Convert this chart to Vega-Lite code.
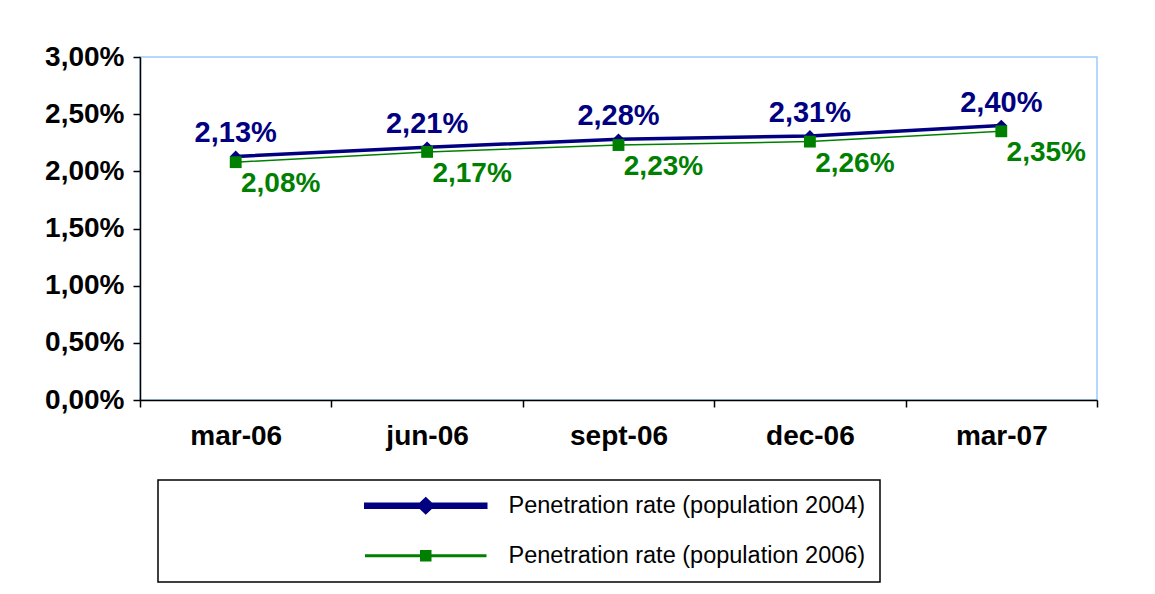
{
  "$schema": "https://vega.github.io/schema/vega-lite/v6.json",
  "width": 957,
  "height": 343,
  "autosize": {"type": "none"},
  "padding": {"left": 140, "top": 57, "right": 58, "bottom": 194},
  "background": "white",
  "data": {
    "values": [
      {"period": "mar-06", "series": "Penetration rate (population 2004)", "value": 0.0213},
      {"period": "jun-06", "series": "Penetration rate (population 2004)", "value": 0.0221},
      {"period": "sept-06", "series": "Penetration rate (population 2004)", "value": 0.0228},
      {"period": "dec-06", "series": "Penetration rate (population 2004)", "value": 0.0231},
      {"period": "mar-07", "series": "Penetration rate (population 2004)", "value": 0.0240},
      {"period": "mar-06", "series": "Penetration rate (population 2006)", "value": 0.0208},
      {"period": "jun-06", "series": "Penetration rate (population 2006)", "value": 0.0217},
      {"period": "sept-06", "series": "Penetration rate (population 2006)", "value": 0.0223},
      {"period": "dec-06", "series": "Penetration rate (population 2006)", "value": 0.0226},
      {"period": "mar-07", "series": "Penetration rate (population 2006)", "value": 0.0235}
    ]
  },
  "encoding": {
    "x": {
      "field": "period", "type": "nominal",
      "sort": ["mar-06", "jun-06", "sept-06", "dec-06", "mar-07"],
      "scale": {"type": "band", "paddingInner": 0, "paddingOuter": 0},
      "axis": {"title": null, "tickBand": "extent", "labelAngle": 0, "labelPadding": 15}
    },
    "y": {
      "field": "value", "type": "quantitative",
      "scale": {"domain": [0, 0.03], "nice": false, "zero": true},
      "axis": {"title": null, "values": [0, 0.005, 0.01, 0.015, 0.02, 0.025, 0.03], "format": ".2%", "labelPadding": 9}
    },
    "color": {
      "field": "series", "type": "nominal",
      "scale": {"domain": ["Penetration rate (population 2004)", "Penetration rate (population 2006)"], "range": ["#000080", "#008000"]},
      "legend": {"title": null, "orient": "none", "legendX": 18, "legendY": 423}
    }
  },
  "layer": [
    {
      "mark": {"type": "line"},
      "encoding": {
        "strokeWidth": {"field": "series", "type": "nominal", "scale": {"domain": ["Penetration rate (population 2004)", "Penetration rate (population 2006)"], "range": [3.5, 1.5]}, "legend": null}
      }
    },
    {
      "transform": [{"filter": "datum.series == 'Penetration rate (population 2004)'"}],
      "mark": {"type": "point", "shape": "diamond", "filled": true, "opacity": 1, "size": 140}
    },
    {
      "transform": [{"filter": "datum.series == 'Penetration rate (population 2006)'"}],
      "mark": {"type": "point", "shape": "square", "filled": true, "opacity": 1, "size": 140}
    },
    {
      "transform": [{"filter": "datum.series == 'Penetration rate (population 2004)'"}],
      "mark": {"type": "text", "dy": -23, "dx": 0, "font": "Liberation Sans", "fontWeight": "bold", "fontSize": 29},
      "encoding": {"text": {"field": "value", "type": "quantitative", "format": ".2%"}}
    },
    {
      "transform": [{"filter": "datum.series == 'Penetration rate (population 2006)'"}],
      "mark": {"type": "text", "dy": 22, "dx": 45, "font": "Liberation Sans", "fontWeight": "bold", "fontSize": 28},
      "encoding": {"text": {"field": "value", "type": "quantitative", "format": ".2%"}}
    },
    {
      "mark": {"type": "point", "filled": true, "opacity": 0},
      "encoding": {
        "shape": {
          "field": "series", "type": "nominal",
          "scale": {
            "domain": ["Penetration rate (population 2004)", "Penetration rate (population 2006)"],
            "range": ["M-12,-0.3H12V0.3H-12Z M-1.4,0L0,-1.3L1.4,0L0,1.3Z", "M-12,-0.15H12V0.15H-12Z M-1,-1H1V1H-1Z"]
          },
          "legend": {"title": null, "orient": "none", "legendX": 18, "legendY": 423}
        }
      }
    }
  ],
  "config": {
    "locale": {"number": {"decimal": ",", "thousands": ".", "grouping": [3], "currency": ["", " €"]}},
    "font": "Liberation Sans",
    "view": {"stroke": "#99ccff", "strokeWidth": 1.5},
    "axis": {
      "labelFont": "Liberation Sans", "labelFontWeight": "bold", "labelFontSize": 28, "labelColor": "black",
      "domainColor": "black", "domainWidth": 1.5, "tickColor": "black", "tickWidth": 1.5, "tickSize": 7,
      "grid": false
    },
    "legend": {
      "padding": 14,
      "strokeColor": "black",
      "strokeWidth": 1.5,
      "fillColor": "white",
      "symbolSize": 100,
      "symbolOffset": 242,
      "symbolOpacity": 1,
      "symbolStrokeWidth": 0,
      "labelOffset": 71,
      "labelFont": "Liberation Sans",
      "labelFontSize": 23.5,
      "labelColor": "black",
      "labelLimit": 600,
      "rowPadding": 23
    }
  }
}
